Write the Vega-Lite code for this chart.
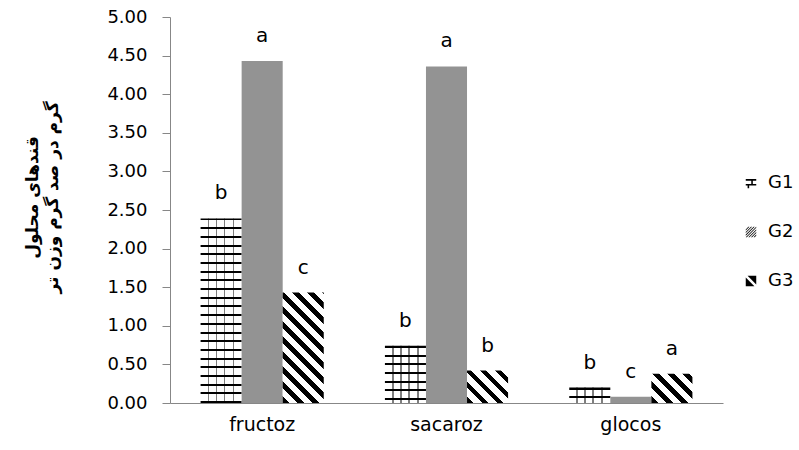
{
  "$schema": "https://vega.github.io/schema/vega-lite/v6.json",
  "width": 553,
  "height": 386,
  "autosize": {"type": "none"},
  "padding": {"left": 170, "top": 17, "right": 76, "bottom": 47},
  "background": "white",
  "config": {
    "view": {"stroke": null},
    "font": "DejaVu Sans",
    "axis": {"labelFont": "DejaVu Sans", "labelColor": "#000000", "domainColor": "#878787", "tickColor": "#878787", "titleColor": "#000000"},
    "legend": {"labelFont": "DejaVu Sans", "labelColor": "#000000"}
  },
  "data": {
    "values": [
      {"sugar": "fructoz", "group": "G1", "value": 2.39, "letter": "b"},
      {"sugar": "fructoz", "group": "G2", "value": 4.43, "letter": "a"},
      {"sugar": "fructoz", "group": "G3", "value": 1.43, "letter": "c"},
      {"sugar": "sacaroz", "group": "G1", "value": 0.74, "letter": "b"},
      {"sugar": "sacaroz", "group": "G2", "value": 4.36, "letter": "a"},
      {"sugar": "sacaroz", "group": "G3", "value": 0.42, "letter": "b"},
      {"sugar": "glocos", "group": "G1", "value": 0.20, "letter": "b"},
      {"sugar": "glocos", "group": "G2", "value": 0.08, "letter": "c"},
      {"sugar": "glocos", "group": "G3", "value": 0.38, "letter": "a"}
    ]
  },
  "encoding": {
    "x": {
      "field": "sugar", "type": "nominal", "sort": ["fructoz", "sacaroz", "glocos"],
      "scale": {"paddingInner": 0, "paddingOuter": 0},
      "axis": {"title": null, "labelAngle": 0, "ticks": false, "labelPadding": 12, "labelFontSize": 19}
    },
    "xOffset": {
      "field": "group", "type": "nominal", "sort": ["G1", "G2", "G3"],
      "scale": {"paddingInner": 0, "paddingOuter": 0.745}
    },
    "y": {
      "field": "value", "type": "quantitative",
      "scale": {"domain": [0, 5], "nice": false},
      "axis": {
        "title": ["قندهای محلول", "گرم در صد گرم وزن تر"],
        "values": [0, 0.5, 1, 1.5, 2, 2.5, 3, 3.5, 4, 4.5, 5],
        "format": ".2f", "grid": false, "tickSize": 8, "labelPadding": 15, "labelFontSize": 18,
        "titleFont": "DejaVu Sans", "titleFontSize": 17, "titleFontWeight": "bold", "titlePadding": 45, "titleLineHeight": 20, "titleY": 180
      }
    }
  },
  "layer": [
    {
      "mark": {"type": "bar"},
      "encoding": {
        "fill": {
          "condition": [
            {"test": "datum.sugar === 'fructoz' && datum.group === 'G1'", "value": {"gradient": "linear", "x1": 0, "y1": 0, "x2": 0, "y2": 1, "stops": [
              {"offset": 0, "color": "#000000"}, {"offset": 0.0108, "color": "#000000"}, {"offset": 0.0108, "color": "#ffffff"}, {"offset": 0.0472, "color": "#ffffff"},
              {"offset": 0.0472, "color": "#000000"}, {"offset": 0.0580, "color": "#000000"}, {"offset": 0.0580, "color": "#ffffff"}, {"offset": 0.0943, "color": "#ffffff"},
              {"offset": 0.0943, "color": "#000000"}, {"offset": 0.1051, "color": "#000000"}, {"offset": 0.1051, "color": "#ffffff"}, {"offset": 0.1415, "color": "#ffffff"},
              {"offset": 0.1415, "color": "#000000"}, {"offset": 0.1523, "color": "#000000"}, {"offset": 0.1523, "color": "#ffffff"}, {"offset": 0.1886, "color": "#ffffff"},
              {"offset": 0.1886, "color": "#000000"}, {"offset": 0.1994, "color": "#000000"}, {"offset": 0.1994, "color": "#ffffff"}, {"offset": 0.2358, "color": "#ffffff"},
              {"offset": 0.2358, "color": "#000000"}, {"offset": 0.2466, "color": "#000000"}, {"offset": 0.2466, "color": "#ffffff"}, {"offset": 0.2829, "color": "#ffffff"},
              {"offset": 0.2829, "color": "#000000"}, {"offset": 0.2937, "color": "#000000"}, {"offset": 0.2937, "color": "#ffffff"}, {"offset": 0.3301, "color": "#ffffff"},
              {"offset": 0.3301, "color": "#000000"}, {"offset": 0.3409, "color": "#000000"}, {"offset": 0.3409, "color": "#ffffff"}, {"offset": 0.3772, "color": "#ffffff"},
              {"offset": 0.3772, "color": "#000000"}, {"offset": 0.3880, "color": "#000000"}, {"offset": 0.3880, "color": "#ffffff"}, {"offset": 0.4244, "color": "#ffffff"},
              {"offset": 0.4244, "color": "#000000"}, {"offset": 0.4352, "color": "#000000"}, {"offset": 0.4352, "color": "#ffffff"}, {"offset": 0.4715, "color": "#ffffff"},
              {"offset": 0.4715, "color": "#000000"}, {"offset": 0.4823, "color": "#000000"}, {"offset": 0.4823, "color": "#ffffff"}, {"offset": 0.5187, "color": "#ffffff"},
              {"offset": 0.5187, "color": "#000000"}, {"offset": 0.5295, "color": "#000000"}, {"offset": 0.5295, "color": "#ffffff"}, {"offset": 0.5658, "color": "#ffffff"},
              {"offset": 0.5658, "color": "#000000"}, {"offset": 0.5766, "color": "#000000"}, {"offset": 0.5766, "color": "#ffffff"}, {"offset": 0.6130, "color": "#ffffff"},
              {"offset": 0.6130, "color": "#000000"}, {"offset": 0.6238, "color": "#000000"}, {"offset": 0.6238, "color": "#ffffff"}, {"offset": 0.6601, "color": "#ffffff"},
              {"offset": 0.6601, "color": "#000000"}, {"offset": 0.6709, "color": "#000000"}, {"offset": 0.6709, "color": "#ffffff"}, {"offset": 0.7073, "color": "#ffffff"},
              {"offset": 0.7073, "color": "#000000"}, {"offset": 0.7181, "color": "#000000"}, {"offset": 0.7181, "color": "#ffffff"}, {"offset": 0.7544, "color": "#ffffff"},
              {"offset": 0.7544, "color": "#000000"}, {"offset": 0.7652, "color": "#000000"}, {"offset": 0.7652, "color": "#ffffff"}, {"offset": 0.8016, "color": "#ffffff"},
              {"offset": 0.8016, "color": "#000000"}, {"offset": 0.8124, "color": "#000000"}, {"offset": 0.8124, "color": "#ffffff"}, {"offset": 0.8487, "color": "#ffffff"},
              {"offset": 0.8487, "color": "#000000"}, {"offset": 0.8595, "color": "#000000"}, {"offset": 0.8595, "color": "#ffffff"}, {"offset": 0.8959, "color": "#ffffff"},
              {"offset": 0.8959, "color": "#000000"}, {"offset": 0.9067, "color": "#000000"}, {"offset": 0.9067, "color": "#ffffff"}, {"offset": 0.9430, "color": "#ffffff"},
              {"offset": 0.9430, "color": "#000000"}, {"offset": 0.9538, "color": "#000000"}, {"offset": 0.9538, "color": "#ffffff"}, {"offset": 0.9902, "color": "#ffffff"},
              {"offset": 0.9902, "color": "#000000"}, {"offset": 1, "color": "#000000"}]}},
            {"test": "datum.sugar === 'sacaroz' && datum.group === 'G1'", "value": {"gradient": "linear", "x1": 0, "y1": 0, "x2": 0, "y2": 1, "stops": [
              {"offset": 0, "color": "#000000"}, {"offset": 0.035, "color": "#000000"}, {"offset": 0.035, "color": "#ffffff"}, {"offset": 0.1524, "color": "#ffffff"},
              {"offset": 0.1524, "color": "#000000"}, {"offset": 0.1874, "color": "#000000"}, {"offset": 0.1874, "color": "#ffffff"}, {"offset": 0.3048, "color": "#ffffff"},
              {"offset": 0.3048, "color": "#000000"}, {"offset": 0.3398, "color": "#000000"}, {"offset": 0.3398, "color": "#ffffff"}, {"offset": 0.4572, "color": "#ffffff"},
              {"offset": 0.4572, "color": "#000000"}, {"offset": 0.4922, "color": "#000000"}, {"offset": 0.4922, "color": "#ffffff"}, {"offset": 0.6096, "color": "#ffffff"},
              {"offset": 0.6096, "color": "#000000"}, {"offset": 0.6446, "color": "#000000"}, {"offset": 0.6446, "color": "#ffffff"}, {"offset": 0.7620, "color": "#ffffff"},
              {"offset": 0.7620, "color": "#000000"}, {"offset": 0.7970, "color": "#000000"}, {"offset": 0.7970, "color": "#ffffff"}, {"offset": 0.9144, "color": "#ffffff"},
              {"offset": 0.9144, "color": "#000000"}, {"offset": 0.9494, "color": "#000000"}, {"offset": 0.9494, "color": "#ffffff"}, {"offset": 1, "color": "#ffffff"}]}},
            {"test": "datum.sugar === 'glocos' && datum.group === 'G1'", "value": {"gradient": "linear", "x1": 0, "y1": 0, "x2": 0, "y2": 1, "stops": [
              {"offset": 0, "color": "#000000"}, {"offset": 0.13, "color": "#000000"}, {"offset": 0.13, "color": "#ffffff"}, {"offset": 0.565, "color": "#ffffff"},
              {"offset": 0.565, "color": "#000000"}, {"offset": 0.695, "color": "#000000"}, {"offset": 0.695, "color": "#ffffff"}, {"offset": 1, "color": "#ffffff"}]}},
            {"test": "datum.sugar === 'fructoz' && datum.group === 'G3'", "value": {"gradient": "linear", "x1": 0, "y1": 1, "x2": 0.4476, "y2": -0.2051, "stops": [
              {"offset": 0, "color": "#000000"}, {"offset": 0.0446, "color": "#000000"}, {"offset": 0.0446, "color": "#ffffff"}, {"offset": 0.0991, "color": "#ffffff"},
              {"offset": 0.0991, "color": "#000000"}, {"offset": 0.1437, "color": "#000000"}, {"offset": 0.1437, "color": "#ffffff"}, {"offset": 0.1982, "color": "#ffffff"},
              {"offset": 0.1982, "color": "#000000"}, {"offset": 0.2428, "color": "#000000"}, {"offset": 0.2428, "color": "#ffffff"}, {"offset": 0.2972, "color": "#ffffff"},
              {"offset": 0.2972, "color": "#000000"}, {"offset": 0.3418, "color": "#000000"}, {"offset": 0.3418, "color": "#ffffff"}, {"offset": 0.3963, "color": "#ffffff"},
              {"offset": 0.3963, "color": "#000000"}, {"offset": 0.4409, "color": "#000000"}, {"offset": 0.4409, "color": "#ffffff"}, {"offset": 0.4954, "color": "#ffffff"},
              {"offset": 0.4954, "color": "#000000"}, {"offset": 0.5400, "color": "#000000"}, {"offset": 0.5400, "color": "#ffffff"}, {"offset": 0.5945, "color": "#ffffff"},
              {"offset": 0.5945, "color": "#000000"}, {"offset": 0.6391, "color": "#000000"}, {"offset": 0.6391, "color": "#ffffff"}, {"offset": 0.6936, "color": "#ffffff"},
              {"offset": 0.6936, "color": "#000000"}, {"offset": 0.7382, "color": "#000000"}, {"offset": 0.7382, "color": "#ffffff"}, {"offset": 0.7926, "color": "#ffffff"},
              {"offset": 0.7926, "color": "#000000"}, {"offset": 0.8372, "color": "#000000"}, {"offset": 0.8372, "color": "#ffffff"}, {"offset": 0.8917, "color": "#ffffff"},
              {"offset": 0.8917, "color": "#000000"}, {"offset": 0.9363, "color": "#000000"}, {"offset": 0.9363, "color": "#ffffff"}, {"offset": 0.9908, "color": "#ffffff"},
              {"offset": 0.9908, "color": "#000000"}, {"offset": 1, "color": "#000000"}]}},
            {"test": "datum.sugar === 'sacaroz' && datum.group === 'G3'", "value": {"gradient": "linear", "x1": 0, "y1": 1, "x2": 1.1020, "y2": 0.1292, "stops": [
              {"offset": 0, "color": "#000000"}, {"offset": 0.092, "color": "#000000"}, {"offset": 0.092, "color": "#ffffff"}, {"offset": 0.2044, "color": "#ffffff"},
              {"offset": 0.2044, "color": "#000000"}, {"offset": 0.2964, "color": "#000000"}, {"offset": 0.2964, "color": "#ffffff"}, {"offset": 0.4087, "color": "#ffffff"},
              {"offset": 0.4087, "color": "#000000"}, {"offset": 0.5007, "color": "#000000"}, {"offset": 0.5007, "color": "#ffffff"}, {"offset": 0.6131, "color": "#ffffff"},
              {"offset": 0.6131, "color": "#000000"}, {"offset": 0.7051, "color": "#000000"}, {"offset": 0.7051, "color": "#ffffff"}, {"offset": 0.8174, "color": "#ffffff"},
              {"offset": 0.8174, "color": "#000000"}, {"offset": 0.9094, "color": "#000000"}, {"offset": 0.9094, "color": "#ffffff"}, {"offset": 1, "color": "#ffffff"}]}},
            {"test": "datum.sugar === 'glocos' && datum.group === 'G3'", "value": {"gradient": "linear", "x1": 0, "y1": 1, "x2": 1.1350, "y2": 0.1889, "stops": [
              {"offset": 0, "color": "#000000"}, {"offset": 0.096, "color": "#000000"}, {"offset": 0.096, "color": "#ffffff"}, {"offset": 0.2134, "color": "#ffffff"},
              {"offset": 0.2134, "color": "#000000"}, {"offset": 0.3094, "color": "#000000"}, {"offset": 0.3094, "color": "#ffffff"}, {"offset": 0.4267, "color": "#ffffff"},
              {"offset": 0.4267, "color": "#000000"}, {"offset": 0.5227, "color": "#000000"}, {"offset": 0.5227, "color": "#ffffff"}, {"offset": 0.6401, "color": "#ffffff"},
              {"offset": 0.6401, "color": "#000000"}, {"offset": 0.7361, "color": "#000000"}, {"offset": 0.7361, "color": "#ffffff"}, {"offset": 0.8535, "color": "#ffffff"},
              {"offset": 0.8535, "color": "#000000"}, {"offset": 0.9495, "color": "#000000"}, {"offset": 0.9495, "color": "#ffffff"}, {"offset": 1, "color": "#ffffff"}]}}
          ],
          "value": "#939393"
        }
      }
    },
    {
      "transform": [{"filter": "datum.group === 'G1'"}],
      "mark": {
        "type": "bar",
        "fill": {"gradient": "linear", "x1": 0, "y1": 0, "x2": 1, "y2": 0, "stops": [
          {"offset": 0, "color": "rgba(0,0,0,0)"}, {"offset": 0.171, "color": "rgba(0,0,0,0)"}, {"offset": 0.171, "color": "rgba(0,0,0,0.5)"}, {"offset": 0.216, "color": "rgba(0,0,0,0.5)"},
          {"offset": 0.216, "color": "rgba(0,0,0,0)"}, {"offset": 0.366, "color": "rgba(0,0,0,0)"}, {"offset": 0.366, "color": "rgba(0,0,0,0.5)"}, {"offset": 0.411, "color": "rgba(0,0,0,0.5)"},
          {"offset": 0.411, "color": "rgba(0,0,0,0)"}, {"offset": 0.561, "color": "rgba(0,0,0,0)"}, {"offset": 0.561, "color": "rgba(0,0,0,0.5)"}, {"offset": 0.606, "color": "rgba(0,0,0,0.5)"},
          {"offset": 0.606, "color": "rgba(0,0,0,0)"}, {"offset": 0.78, "color": "rgba(0,0,0,0)"}, {"offset": 0.78, "color": "rgba(0,0,0,0.5)"}, {"offset": 0.825, "color": "rgba(0,0,0,0.5)"},
          {"offset": 0.825, "color": "rgba(0,0,0,0)"}, {"offset": 1, "color": "rgba(0,0,0,0)"}]}
      },
      "encoding": {}
    },
    {
      "mark": {"type": "text", "dy": -19, "baseline": "alphabetic", "fontSize": 20, "font": "DejaVu Sans", "color": "#000000"},
      "encoding": {"text": {"field": "letter", "type": "nominal"}}
    },
    {
      "mark": {"type": "point", "filled": true, "opacity": 0, "color": "#000000"},
      "encoding": {
        "shape": {
          "field": "group", "type": "nominal",
          "scale": {
            "domain": ["G1", "G2", "G3"],
            "range": [
              "M-1,-0.75H1V-0.45H-1Z M0.05,-0.45H0.35V0.2H0.05Z M-1,0.2H1V0.5H-1Z M-0.65,0.5H-0.35V1H-0.65Z",
              "M-1,-0.5L-0.5,-1L-0.3,-1L-1,-0.3Z M-1,0L0,-1L0.2,-1L-1,0.2Z M-1,0.5L0.5,-1L0.7,-1L-1,0.7Z M-1,1L1,-1L1,-0.8L-0.8,1Z M-0.5,1L1,-0.5L1,-0.3L-0.3,1Z M0,1L1,0L1,0.2L0.2,1Z M0.5,1L1,0.5L1,0.7L0.7,1Z",
              "M-1,-0.65L0.65,1L-1,1Z M-0.65,-1L1,-1L1,0.65Z"
            ]
          },
          "legend": {
            "title": null, "orient": "none", "legendX": 572, "legendY": 157,
            "symbolSize": 110, "symbolOpacity": 1, "symbolFillColor": "#000000", "labelFontSize": 18, "labelOffset": 8, "rowPadding": 31, "symbolStrokeWidth": 0
          }
        }
      }
    }
  ]
}
